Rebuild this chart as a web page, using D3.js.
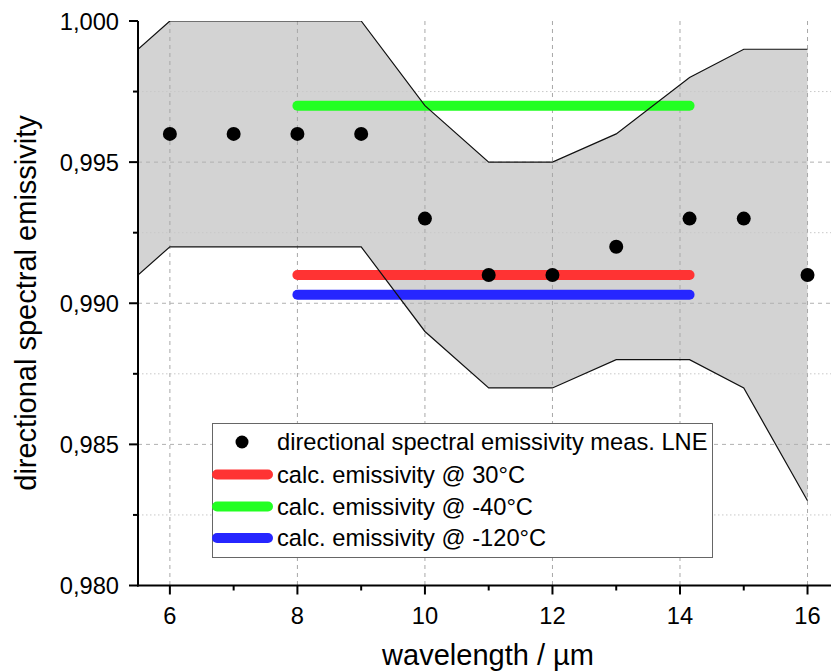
<!DOCTYPE html>
<html>
<head>
<meta charset="utf-8">
<script src="https://cdn.jsdelivr.net/npm/d3@7/dist/d3.min.js"></script>
<style>
  html, body { margin: 0; padding: 0; background: #fff; }
  svg { display: block; font-family: Arial, "Liberation Sans", sans-serif; }
</style>
</head>
<body>
<svg id="chart" width="831" height="672"></svg>
<script>
// Measured directional spectral emissivity (LNE)
const measWavelength = [6, 7, 8, 9, 10, 11, 12, 13, 14.15, 15, 16];
const measEmissivity = [0.996, 0.996, 0.996, 0.996, 0.993, 0.991, 0.991, 0.992, 0.993, 0.993, 0.991];

// Uncertainty band (upper / lower bounds)
const bandWavelength = [5.5, 6, 9, 10, 11, 12, 13, 14.15, 15, 16];
const bandUpper = [0.999, 1.000, 1.000, 0.997, 0.995, 0.995, 0.996, 0.998, 0.999, 0.999];
const bandLower = [0.991, 0.992, 0.992, 0.989, 0.987, 0.987, 0.988, 0.988, 0.987, 0.983];

// Calculated emissivities, constant over 8 - 14.15 µm
const calcLabels = ["calc. emissivity @ 30°C", "calc. emissivity @ -40°C", "calc. emissivity @ -120°C"];
const calcValues = [0.991, 0.997, 0.9903];
const calcColors = ["#ff3333", "#22ff22", "#2626ff"];
const calcRange = [8, 14.15];

const measLabel = "directional spectral emissivity meas. LNE";
const xTicks = [6, 8, 10, 12, 14, 16];
const xMinor = [7, 9, 11, 13, 15];
const yTicks = [0.980, 0.985, 0.990, 0.995, 1.000];
const yMinor = [0.9825, 0.9875, 0.9925, 0.9975];

const svg = d3.select("#chart");
const mLeft = 138, mRight = 839.4, mTop = 21, mBottom = 585.5;

const x = d3.scaleLinear().domain([5.5, 16.5]).range([mLeft, mRight]);
const y = d3.scaleLinear().domain([0.980, 1.000]).range([mBottom, mTop]);
const fmt = v => d3.format(".3f")(v).replace(".", ",");

svg.append("defs").append("clipPath").attr("id", "plotClip")
  .append("rect").attr("x", mLeft).attr("y", mTop).attr("width", mRight - mLeft).attr("height", mBottom - mTop);

// band fill
const bandData = bandWavelength.map((w, i) => ({ w, hi: bandUpper[i], lo: bandLower[i] }));
const plot = svg.append("g").attr("clip-path", "url(#plotClip)");
plot.append("path").datum(bandData)
  .attr("d", d3.area().x(d => x(d.w)).y0(d => y(d.lo)).y1(d => y(d.hi)))
  .attr("fill", "#d3d3d3");

// grid
const grid = svg.append("g");
grid.selectAll(".vg").data(xTicks).join("line")
  .attr("x1", d => x(d)).attr("x2", d => x(d)).attr("y1", mTop).attr("y2", mBottom)
  .attr("stroke", "#a8a8a8").attr("stroke-width", 1).attr("stroke-dasharray", "4,4");
grid.selectAll(".hg").data(yTicks.slice(1, -1)).join("line")
  .attr("x1", mLeft).attr("x2", 831).attr("y1", d => y(d)).attr("y2", d => y(d))
  .attr("stroke", "#b0b0b0").attr("stroke-width", 1).attr("stroke-dasharray", "4,4");
grid.selectAll(".hm").data(yMinor).join("line")
  .attr("x1", mLeft).attr("x2", 831).attr("y1", d => y(d)).attr("y2", d => y(d))
  .attr("stroke", "#c8c8c8").attr("stroke-width", 1).attr("stroke-dasharray", "1.5,2.5");

// calculated lines
calcValues.forEach((v, i) => {
  svg.append("line")
    .attr("x1", x(calcRange[0])).attr("x2", x(calcRange[1]))
    .attr("y1", y(v)).attr("y2", y(v))
    .attr("stroke", calcColors[i]).attr("stroke-width", 10).attr("stroke-linecap", "round");
});

// band outlines
const bandLine = svg.append("g").attr("clip-path", "url(#plotClip)");
bandLine.append("path").datum(bandData)
  .attr("d", d3.line().x(d => x(d.w)).y(d => y(d.hi)))
  .attr("fill", "none").attr("stroke", "#111").attr("stroke-width", 1.2);
bandLine.append("path").datum(bandData)
  .attr("d", d3.line().x(d => x(d.w)).y(d => y(d.lo)))
  .attr("fill", "none").attr("stroke", "#111").attr("stroke-width", 1.2);

// measured points
svg.selectAll(".pt").data(measWavelength).join("circle")
  .attr("cx", d => x(d)).attr("cy", (d, i) => y(measEmissivity[i])).attr("r", 7)
  .attr("fill", "#000");

// axes
const xAxis = svg.append("g").attr("transform", `translate(0,${mBottom})`);
xAxis.append("line").attr("x1", mLeft - 1).attr("x2", 831).attr("y1", 0).attr("y2", 0)
  .attr("stroke", "#000").attr("stroke-width", 2);
xAxis.selectAll(".mt").data(xTicks).join("line")
  .attr("x1", d => x(d)).attr("x2", d => x(d)).attr("y1", 0).attr("y2", 9)
  .attr("stroke", "#000").attr("stroke-width", 2);
xAxis.selectAll(".nt").data(xMinor).join("line")
  .attr("x1", d => x(d)).attr("x2", d => x(d)).attr("y1", 0).attr("y2", 5)
  .attr("stroke", "#000").attr("stroke-width", 2);
xAxis.selectAll("text").data(xTicks).join("text")
  .attr("x", d => x(d)).attr("y", 38).attr("text-anchor", "middle")
  .attr("font-size", 23.7).attr("fill", "#000").text(d => d);

const yAxis = svg.append("g").attr("transform", `translate(${mLeft},0)`);
yAxis.append("line").attr("x1", 0).attr("x2", 0).attr("y1", mTop).attr("y2", mBottom + 1)
  .attr("stroke", "#000").attr("stroke-width", 2);
yAxis.selectAll(".mt").data(yTicks).join("line")
  .attr("x1", -9).attr("x2", 0).attr("y1", d => y(d)).attr("y2", d => y(d))
  .attr("stroke", "#000").attr("stroke-width", 2);
yAxis.selectAll(".nt").data(yMinor).join("line")
  .attr("x1", -5).attr("x2", 0).attr("y1", d => y(d)).attr("y2", d => y(d))
  .attr("stroke", "#000").attr("stroke-width", 2);
yAxis.selectAll("text").data(yTicks).join("text")
  .attr("x", -19).attr("y", d => y(d)).attr("dy", "0.36em").attr("text-anchor", "end")
  .attr("font-size", 23.7).attr("fill", "#000").text(d => fmt(d));

// axis titles
svg.append("text").attr("x", 488).attr("y", 665).attr("text-anchor", "middle")
  .attr("font-size", 29).attr("fill", "#000").text("wavelength / µm");
svg.append("text").attr("transform", `translate(36,303) rotate(-90)`).attr("text-anchor", "middle")
  .attr("font-size", 29).attr("fill", "#000").text("directional spectral emissivity");

// legend
const lg = svg.append("g");
lg.append("rect").attr("x", 212.5).attr("y", 423.5).attr("width", 500).attr("height", 134)
  .attr("fill", "#fff").attr("stroke", "#666").attr("stroke-width", 1);
const rowY = [442, 474.5, 506.5, 538];
lg.append("circle").attr("cx", 242).attr("cy", rowY[0]).attr("r", 6.5).attr("fill", "#000");
lg.append("text").attr("x", 277).attr("y", rowY[0]).attr("dy", "0.35em")
  .attr("font-size", 23.7).attr("fill", "#000").text(measLabel);
calcLabels.forEach((t, i) => {
  lg.append("line").attr("x1", 217).attr("x2", 268).attr("y1", rowY[i + 1]).attr("y2", rowY[i + 1])
    .attr("stroke", calcColors[i]).attr("stroke-width", 10).attr("stroke-linecap", "round");
  lg.append("text").attr("x", 277).attr("y", rowY[i + 1]).attr("dy", "0.35em")
    .attr("font-size", 23.7).attr("fill", "#000").text(t);
});
</script>
</body>
</html>
